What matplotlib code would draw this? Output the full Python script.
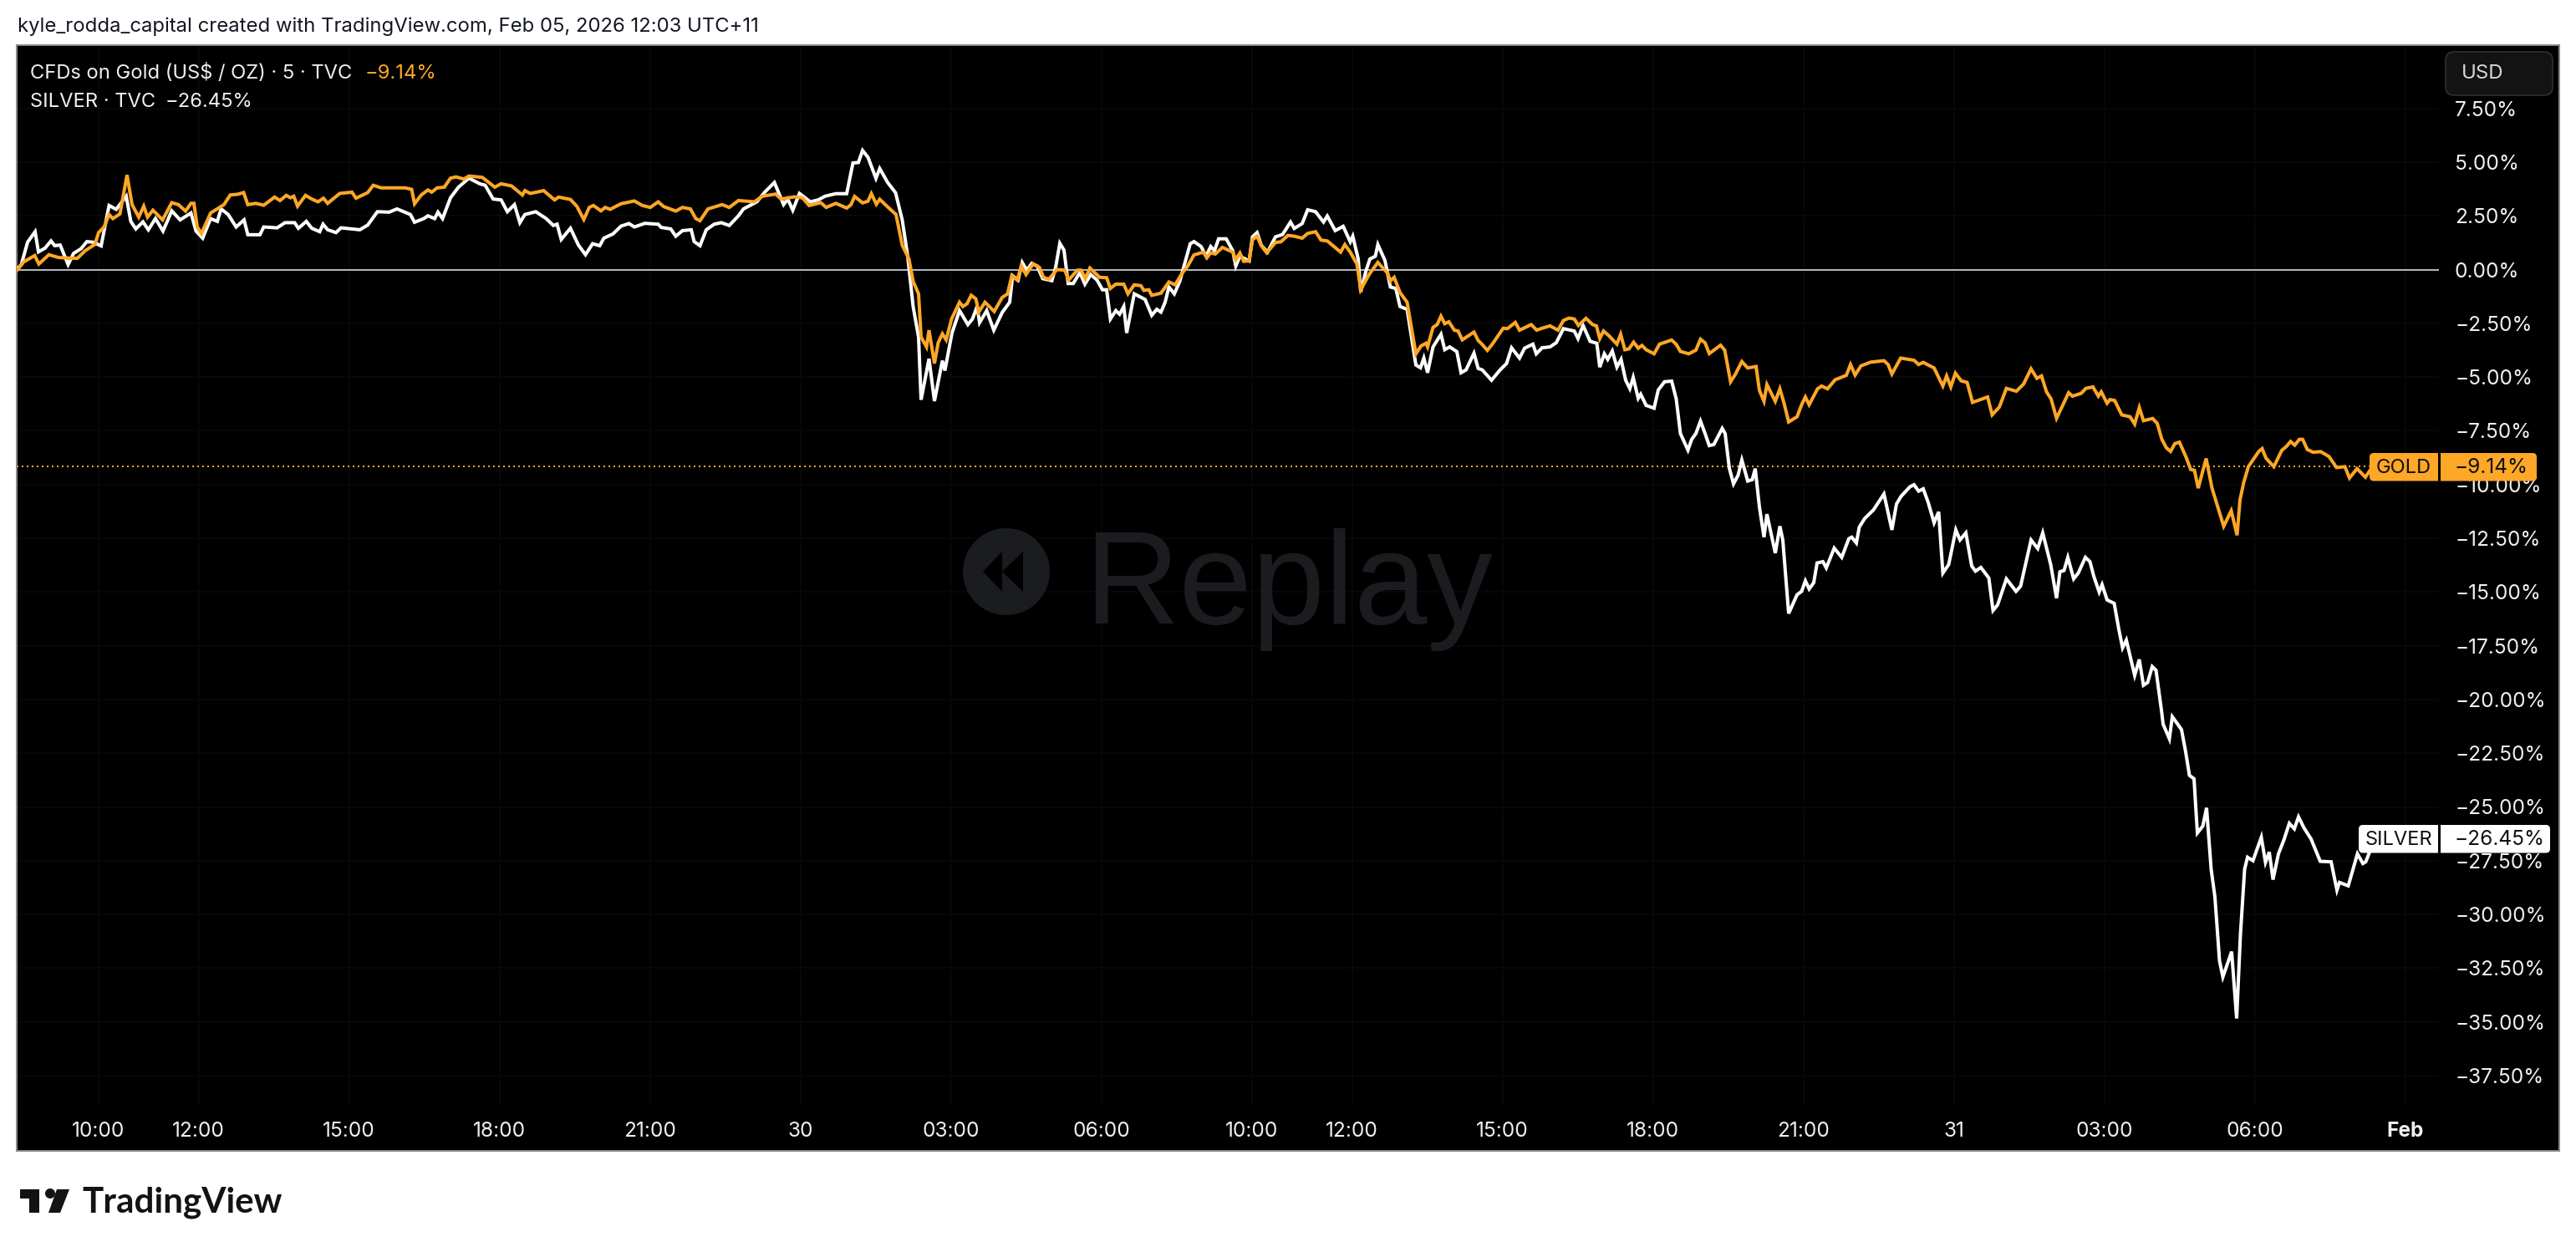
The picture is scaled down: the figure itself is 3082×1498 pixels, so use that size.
import matplotlib
matplotlib.use('Agg')
import matplotlib.pyplot as plt
from matplotlib.patches import Circle, FancyBboxPatch, Polygon, Rectangle

plt.rcParams['font.family'] = ['Inter', 'DejaVu Sans']

# values: x is in 5 minute bars from the left edge, y in percent
silver_bar = [0, 1.1, 2.6, 4.4, 5.2, 6.8, 8.2, 9.1, 10.4, 12.3, 13.6, 15.4, 16.8, 18.3, 20.2, 22.1, 23.8, 26.2, 27.3, 28.5,
              30.2, 31.5, 33.2, 35, 37.1, 39.1, 41.7, 42.9, 44.5, 46.4, 48, 48.9, 50.6, 52.5, 54.4, 55.3, 58.2, 59.1, 62.3, 64.2,
              66.5, 67.4, 69.3, 70.6, 72.5, 73.3, 74.4, 76.4, 77.6, 82.1, 84, 86.3, 89.1, 91, 94.2, 95.2, 97.4, 98.4, 100, 100.8,
              101.9, 103.8, 105.7, 108.2, 110.8, 112.1, 114, 115.9, 117.4, 119.1, 120.4, 121.6, 124.2, 126.7, 128.4, 129.3, 130.3, 132.5, 134.4, 136.1,
              137.8, 139.5, 140.5, 142.7, 144.6, 146.5, 147.8, 150.3, 153.5, 154.2, 156.5, 157.7, 159.3, 161.4, 162.1, 163.5, 165, 166.9, 168.6, 170.5,
              172.7, 173.9, 177.1, 179, 181.3, 183.5, 184.5, 185.7, 187.3, 189.9, 191.8, 193.4, 196, 198.6, 200.1, 201.4, 202.4, 203.7, 205.6, 206.5,
              208.4, 210.3, 211.9, 213.2, 214.5, 215.8, 216.4, 218.3, 219.6, 221.5, 222.1, 223.8, 225.6, 227.6, 228.7, 229.8, 230.4, 232.1, 233.8, 235.8,
              237.6, 238.3, 239.6, 240.6, 241.7, 242.9, 244.2, 245.5, 247.7, 248.6, 249.6, 250.6, 251.6, 252.8, 254.4, 255.6, 257, 258.5, 259.8, 260.8,
              261.7, 263, 263.9, 264.9, 265.6, 267.4, 270, 271.6, 272.8, 273.8, 274.8, 275.7, 277, 278.3, 279.5, 280.8, 281.7, 283.4, 284.6, 285.7,
              286.6, 287.6, 289.4, 291, 291.7, 292.7, 294.9, 295.7, 296.8, 297.8, 299.3, 301.2, 302.9, 304.8, 305.7, 307.6, 308.9, 310.8, 312.7, 313.6,
              315.5, 317.4, 319.1, 319.7, 321, 321.6, 322.9, 323.8, 325.1, 325.7, 327.4, 328.7, 330, 331, 332.7, 334.8, 335.9, 336.7, 337.6, 338.9,
              340.8, 341.7, 342.9, 344.6, 345.6, 346.8, 348.7, 349.7, 350.7, 352.9, 354.8, 356.5, 357.7, 359.6, 360.8, 362.8, 363.6, 365, 366.9, 368.4,
              370.1, 372.7, 373.6, 374.8, 376.5, 378.1, 378.8, 379.9, 380.7, 381.8, 382.9, 383.9, 385, 386, 386.8, 388, 388.6, 389.9, 391.8, 392.8,
              394.3, 396, 397.1, 398.1, 399.9, 400.8, 401.8, 402.9, 404, 405, 406.1, 408.1, 408.8, 409.8, 410.8, 411.9, 412.8, 414.2, 415.3, 416,
              417, 418.1, 418.8, 420.8, 421.9, 422.6, 424, 426, 427.1, 428, 428.9, 430, 430.8, 432.2, 433, 434.9, 436.7, 438.4, 439.1, 440.2,
              440.9, 442.2, 444.3, 446.8, 448.7, 449.8, 450.9, 453, 454, 455.1, 456.2, 457.4, 458.8, 459.9, 460.9, 462.3, 464, 465, 466.4, 467.8,
              468.7, 470, 471.9, 472.9, 474, 476.1, 478.4, 479.5, 482, 483.6, 484.8, 486.7, 488.1, 488.9, 489.9, 490.8, 492.2, 493.3, 495, 496.1,
              497, 498.3, 499, 500.2, 501.9, 503, 503.9, 504.8, 506.8, 507.9, 508.9, 509.9, 511, 511.9, 513.2, 513.6, 515.1, 515.8, 518, 519,
              519.9, 521, 521.8, 523.1, 524, 525.1, 526, 527.1, 527.9, 530, 531.2, 532.1, 533.1, 533.8, 535.1, 537.1, 538.1, 539, 539.9, 541.2,
              542.5, 543.8, 545, 546, 547.3, 549, 551.2, 553.8, 555.2, 555.8, 557.9, 560.1, 561.4, 562.1, 563, 566]
silver_pct = [0, .23, 1.27, 1.76, .82, 1.0, 1.33, 1.11, 1.14, .23, .75, .97, 1.3, 1.27, 1.1, 2.98, 2.8, 3.41, 2.24, 1.89,
              2.22, 1.85, 2.37, 1.79, 2.73, 2.31, 2.63, 1.79, 1.46, 2.37, 2.24, 2.82, 2.56, 1.98, 2.31, 1.62, 1.62, 1.98, 1.94, 2.18,
              2.18, 1.92, 2.24, 1.92, 1.76, 2.11, 1.85, 1.72, 1.94, 1.85, 2.07, 2.69, 2.67, 2.82, 2.56, 2.2, 2.37, 2.5, 2.37, 2.67,
              2.37, 3.34, 3.83, 4.25, 3.99, 3.92, 3.28, 3.24, 2.69, 3.02, 2.18, 2.56, 2.69, 2.37, 2.05, 2.11, 1.4, 1.92, 1.14, .69,
              1.2, 1.11, 1.46, 1.66, 2.02, 2.14, 1.98, 2.15, 2.11, 1.96, 1.89, 1.55, 1.81, 1.85, 1.3, 1.11, 1.85, 2.11, 2.18, 2.05,
              2.5, 2.82, 3.15, 3.6, 4.05, 3.02, 3.28, 2.76, 3.54, 3.15, 3.24, 3.41, 3.53, 3.53, 4.96, 4.98, 5.54, 5.22, 4.24, 4.7,
              4.05, 3.57, 2.3, .62, -1.72, -3.14, -6.06, -4.15, -6.12, -4.24, -4.7, -2.95, -1.91, -2.56, -2.3, -1.72, -2.47, -1.91, -2.82, -2.0,
              -1.52, -.29, -.49, .33, -.03, .29, .16, -.42, -.52, .1, 1.22, .9, -.65, -.65, -.14, -.68, -.23, -.49, -.94, -.94,
              -2.3, -1.91, -2.08, -1.72, -2.95, -1.13, -1.39, -2.13, -1.85, -1.98, -1.52, -.81, -1.13, -.55, .29, 1.2, 1.3, 1.07, .62, 1.07,
              .87, 1.43, 1.43, .87, .16, .62, .4, 1.52, 1.72, 1.13, .81, 1.52, 1.63, 2.21, 1.91, 2.14, 2.78, 2.69, 2.21, 2.49,
              1.81, 2.01, 1.29, 1.55, .49, -1.04, -.03, .49, .62, 1.16, .42, -.81, -.88, -1.72, -1.85, -4.44, -4.57, -4.12, -4.8, -3.6,
              -3.01, -3.73, -3.6, -3.82, -4.8, -4.67, -3.89, -4.6, -4.67, -5.15, -4.7, -4.37, -3.64, -4.12, -3.66, -3.47, -3.92, -3.64, -3.6, -3.4,
              -2.75, -2.86, -3.21, -2.6, -3.34, -3.43, -4.54, -3.92, -4.18, -3.79, -4.54, -4.18, -5.15, -5.54, -5.02, -5.99, -5.8, -6.32, -6.45, -5.6,
              -5.22, -5.19, -6.02, -7.63, -8.4, -7.9, -7.63, -7.05, -7.63, -8.19, -8.14, -7.39, -7.63, -9.24, -9.97, -9.57, -8.86, -9.84, -9.77, -9.26,
              -11.04, -12.45, -11.38, -13.19, -11.94, -12.58, -16, -15.13, -14.97, -14.48, -14.86, -14.57, -13.65, -13.59, -13.88, -12.96, -13.39, -12.52, -12.45, -12.72,
              -11.98, -11.58, -11.18, -10.44, -12.11, -10.91, -10.55, -10.11, -10.01, -10.31, -10.2, -10.84, -11.78, -11.27, -14.12, -13.72, -12.11, -12.58, -12.25, -13.79,
              -14.03, -13.86, -14.35, -15.86, -15.6, -14.39, -14.97, -14.73, -12.58, -12.98, -12.25, -13.72, -15.29, -14.06, -14.0, -13.39, -14.39, -14.12, -13.39, -13.59,
              -14.26, -15, -14.66, -15.37, -15.53, -16.73, -17.6, -17.24, -18.88, -18.14, -19.34, -19.21, -18.47, -18.64, -20.5, -21.15, -21.83, -20.8, -21.4, -22.44,
              -23.53, -23.69, -26.21, -25.89, -25.04, -27.9, -29.19, -32.16, -32.91, -31.73, -34.84, -30.95, -27.9, -27.34, -27.5, -26.41, -27.58, -27.1, -28.38, -27.18,
              -26.54, -25.76, -26.02, -25.46, -25.97, -26.49, -27.53, -27.55, -28.87, -28.51, -28.67, -27.18, -27.63, -27.55, -27.1, -26.45]

gold_bar = [0, 1.7, 4.3, 5.3, 7.7, 10, 12.8, 14.5, 16.4, 18.7, 19.6, 20.9, 22.1, 23, 24.7, 26.4, 27.6, 29.2, 30.4, 31.3,
            32.6, 34.9, 37.1, 38.7, 40.4, 41.7, 42.4, 43.2, 44.2, 46.4, 49.6, 51.1, 52.8, 54.3, 55.3, 57.2, 59.1, 61.7, 63, 64.5,
            65.5, 66.3, 67.2, 69.1, 70.6, 72.1, 73.4, 74.4, 77.3, 80.2, 81.2, 84, 85.3, 87.2, 92.9, 94.5, 95.2, 96.8, 98.4, 99.3,
            100.6, 102.3, 103.8, 105.1, 107, 108.2, 111.4, 114.4, 115.9, 118.4, 121, 121.6, 122.9, 126.1, 128.7, 129.7, 132.5, 134, 135.7, 137,
            138, 139.8, 140.8, 142, 144.6, 147.8, 149.7, 151.6, 153.5, 154.8, 157.7, 159.3, 161.2, 162.5, 163.5, 165.4, 168.8, 170.5, 172.7, 176.5,
            178.4, 181.6, 182.9, 186, 188, 189.6, 192.4, 193.7, 196, 198.6, 199.6, 200.5, 202.4, 203.7, 204.5, 205.7, 206.5, 208.1, 210.4, 211.9,
            213.5, 214.5, 215.8, 216.4, 217.7, 218.3, 219.6, 220.5, 221.5, 222.4, 223.7, 225.6, 226.4, 227.4, 228.4, 229.5, 230.2, 231.7, 233.9, 235.8,
            237.1, 238.1, 239.4, 240.4, 241.5, 243.2, 244.7, 245.7, 247, 248.9, 250.8, 251.7, 253.8, 254.7, 255.7, 256.8, 259.1, 260.8, 261.7, 263,
            264.9, 265.9, 267.4, 269, 269.7, 270.9, 271.6, 273.8, 275.7, 277.2, 278.9, 280.2, 281.7, 284, 284.8, 285.7, 286.8, 288.5, 291, 291.7,
            292.7, 293.6, 294.9, 295.7, 296.8, 297.8, 299.1, 301.2, 302.5, 304.2, 305.7, 307.6, 308.9, 310.8, 312.1, 313.6, 316.8, 317.8, 319.1, 320.7,
            321.6, 323.6, 325.7, 328, 328.7, 329.6, 331, 332.7, 334.8, 336, 337.2, 337.6, 338.9, 339.9, 340.8, 341.7, 342.7, 344, 344.9, 345.9,
            348.7, 349.7, 350.6, 351.9, 353.1, 355.7, 356.7, 358.6, 359.6, 362.4, 363.7, 365, 366.9, 368.8, 370.1, 371.4, 372.7, 373.7, 375.5, 377.1,
            378, 378.8, 379.7, 381, 382.9, 383.8, 384.8, 385.8, 386.9, 388, 388.9, 389.9, 391.8, 393.1, 396, 397.1, 398.1, 400.1, 401.8, 402.9,
            404, 405, 407.7, 408.7, 410.1, 411.2, 412.8, 414.2, 416.2, 417, 418.1, 418.8, 420.8, 421.9, 422.9, 424, 426, 427.1, 428, 428.9,
            430.9, 431.9, 433.3, 435.1, 437.8, 438.8, 439.9, 441.3, 443.6, 446.8, 447.8, 448.7, 450.8, 454, 455.1, 456.2, 458.8, 460.9, 461.8, 462.8,
            463.9, 465.3, 466.7, 468, 471.6, 472.7, 474.4, 476.1, 478.5, 480.2, 482, 483.4, 484.5, 485.7, 486.8, 488.1, 491, 491.9, 494, 495.1,
            496.8, 498.1, 498.8, 500.2, 500.9, 502, 503.7, 505.7, 506.8, 507.9, 508.9, 511.1, 512.2, 513.3, 514.4, 515.4, 516.4, 517.5, 519.1, 520.2,
            521.1, 522, 523.9, 525.3, 528.1, 529.9, 531.3, 532, 532.9, 534, 536.5, 537.3, 538.2, 540.1, 542, 543.1, 544.1, 545.1, 546.2, 547,
            548.1, 549.5, 551.3, 553.3, 555.1, 557.1, 558.2, 560, 562, 563.4, 566]
gold_pct = [-.05, .36, .65, .26, .69, .56, .53, .52, .88, 1.17, 1.72, 1.98, 2.56, 2.37, 2.59, 4.4, 3.02, 2.44, 2.95, 2.44,
            2.76, 2.31, 3.11, 3.02, 2.72, 3.08, 3.08, 1.98, 1.68, 2.63, 3.02, 3.47, 3.5, 3.58, 3.02, 3.08, 2.99, 3.37, 3.21, 3.45,
            3.34, 3.41, 2.95, 3.45, 3.28, 3.15, 3.32, 3.08, 3.54, 3.6, 3.32, 3.58, 3.92, 3.8, 3.8, 3.73, 3.06, 3.47, 3.7, 3.6,
            3.8, 3.83, 4.25, 4.31, 4.21, 4.35, 4.29, 3.83, 3.99, 3.89, 3.47, 3.67, 3.54, 3.67, 3.24, 3.37, 3.26, 2.95, 2.33, 2.89,
            2.98, 2.73, 2.89, 2.8, 3.06, 3.19, 2.98, 2.89, 3.15, 2.93, 2.72, 2.89, 2.82, 2.37, 2.27, 2.82, 3.02, 2.89, 3.21, 3.15,
            3.41, 3.51, 3.28, 3.38, 3.34, 2.98, 3.11, 2.89, 3.08, 2.86, 3.01, 3.4, 3.1, 3.18, 3.53, 3.04, 3.27, 2.97, 2.56, 1.13,
            .49, -.55, -1.13, -3.14, -3.6, -2.82, -4.37, -3.4, -2.99, -3.27, -2.3, -1.52, -1.72, -1.59, -1.2, -1.36, -1.98, -1.52, -1.95, -1.3,
            -1.13, -.29, -.49, .16, -.23, .26, .1, -.36, -.45, 0, -.03, -.49, -.03, -.03, -.42, .07, -.36, -.38, -.88, -.68,
            -.68, -1.13, -.71, -.75, -.97, -.94, -1.2, -1.1, -.58, -.71, -.16, .16, .68, .81, .55, .78, .72, 1.03, .81, .46,
            .77, .38, .41, 1.39, 1.55, 1.11, .78, 1.26, 1.29, 1.59, 1.55, 1.46, 1.68, 1.76, 1.37, 1.33, .81, 1.16, .81, .25,
            -.94, -.23, .33, -.16, -.53, -.36, -1.07, -1.52, -3.92, -3.56, -3.43, -3.6, -2.69, -2.56, -2.17, -2.52, -2.43, -2.82, -2.86, -3.27,
            -2.91, -3.3, -3.47, -3.76, -3.47, -2.73, -2.75, -2.46, -2.82, -2.56, -2.82, -2.73, -2.62, -2.82, -2.37, -2.26, -2.3, -2.6, -2.27, -2.56,
            -2.62, -3.21, -2.86, -3.08, -3.47, -3.01, -3.73, -3.69, -3.38, -3.66, -3.53, -3.73, -3.92, -3.47, -3.28, -3.48, -3.81, -3.92, -3.75, -3.24,
            -3.41, -3.91, -3.52, -3.75, -5.22, -4.89, -4.28, -4.58, -4.51, -5.62, -6.13, -5.35, -6.13, -5.55, -6.22, -7.09, -6.85, -6.29, -5.93, -6.29,
            -5.55, -5.42, -5.55, -5.13, -4.92, -4.42, -4.91, -4.48, -4.31, -4.24, -4.42, -4.86, -4.12, -4.22, -4.42, -4.32, -4.58, -5.42, -4.95, -5.46,
            -4.82, -5.18, -5.25, -6.18, -5.93, -6.76, -6.4, -5.53, -5.66, -5.33, -4.62, -5.06, -4.95, -5.69, -6.02, -6.92, -5.73, -5.89, -5.76, -5.53,
            -5.46, -5.89, -5.69, -6.22, -6.05, -6.09, -6.76, -6.85, -7.19, -6.42, -7.03, -6.93, -7.16, -7.9, -8.3, -8.46, -8.1, -8.03, -8.73, -9.3,
            -9.34, -10.17, -8.79, -10.17, -11.94, -11.22, -12.36, -10.71, -9.9, -9.17, -8.46, -8.33, -8.77, -9.17, -8.41, -8.23, -8.0, -8.17, -7.9, -7.9,
            -8.37, -8.5, -8.47, -8.7, -9.21, -9.17, -9.7, -9.26, -9.66, -9.26, -9.14]

y_ticks = [7.5, 5, 2.5, 0, -2.5, -5, -7.5, -10, -12.5, -15, -17.5, -20, -22.5, -25, -27.5, -30, -32.5, -35, -37.5]
y_labels = ['7.50%', '5.00%', '2.50%', '0.00%', '−2.50%', '−5.00%', '−7.50%', '−10.00%', '−12.50%', '−15.00%',
            '−17.50%', '−20.00%', '−22.50%', '−25.00%', '−27.50%', '−30.00%', '−32.50%', '−35.00%', '−37.50%']
x_ticks = [19.5, 43.5, 79.5, 115.5, 151.5, 187.5, 223.5, 259.5, 295.5, 319.5, 355.5, 391.5, 427.5, 463.5, 499.5, 535.5, 571.5]
x_labels = ['10:00', '12:00', '15:00', '18:00', '21:00', '30', '03:00', '06:00', '10:00', '12:00', '15:00', '18:00', '21:00',
            '31', '03:00', '06:00', 'Feb']
gold_last = -9.14
silver_last = -26.45

GOLD = '#ffa726'
W, H = 3082, 1498
LEFT, RIGHT, TOP, BOTTOM = 20, 3062, 54, 1377
PANE_RIGHT, PANE_BOTTOM = 2918, 1322
BAR_PX = 5
PCT_PX = 25.72
ZERO_PX = 322.5
pane_x = (PANE_RIGHT - LEFT) / BAR_PX
pane_y = (ZERO_PX - PANE_BOTTOM) / PCT_PX

fig = plt.figure(figsize=(W / 100, H / 100), dpi=100, facecolor='white')
ax = fig.add_axes([LEFT / W, 1 - BOTTOM / H, (RIGHT - LEFT) / W, (BOTTOM - TOP) / H], facecolor='black')
ax.set_xlim(0, (RIGHT - LEFT) / BAR_PX)
ax.set_ylim((ZERO_PX - BOTTOM) / PCT_PX, (ZERO_PX - TOP) / PCT_PX)

# faint grid stops where the price and time scales begin
ax.hlines(y_ticks, 0, pane_x, colors='#080808', lw=1.4, zorder=1)
ax.vlines(x_ticks, pane_y, ax.get_ylim()[1], colors='#080808', lw=1.4, zorder=1)
ax.hlines(0, 0, pane_x, colors='#b2b5be', lw=1.44, zorder=2)
ax.hlines(gold_last, 0, pane_x, colors=GOLD, lw=1.44, linestyles=(0, (1, 2)), zorder=2)

ax.plot(silver_bar, silver_pct, color='white', lw=2.9, zorder=3, solid_joinstyle='miter')
ax.plot(gold_bar, gold_pct, color=GOLD, lw=2.9, zorder=4, solid_joinstyle='miter')

ax.yaxis.tick_right()
ax.set_yticks(y_ticks)
ax.set_yticklabels(y_labels, ha='left')
ax.tick_params(axis='y', length=0, pad=-90, labelsize=17.6, labelcolor='#f0f0f0')
ax.set_xticks(x_ticks)
ax.set_xticklabels(x_labels)
ax.tick_params(axis='x', length=0, pad=-25.5, labelsize=17.6, labelcolor='#f0f0f0')
ax.get_xticklabels()[-1].set_fontweight('bold')
for s in ax.spines.values():
    s.set_color('#8a8a8a')
    s.set_linewidth(1.44)

# overlay in picture pixels for header, legend, tags and logos
ov = fig.add_axes([0, 0, 1, 1], facecolor='none')
ov.set_xlim(0, W)
ov.set_ylim(H, 0)
ov.axis('off')

ov.text(21, 32, 'kyle_rodda_capital created with TradingView.com, Feb 05, 2026 12:03 UTC+11',
        fontsize=17.2, color='#131722', va='center', ha='left')
ov.text(36, 87.5, 'CFDs on Gold (US$ / OZ) · 5 · TVC', fontsize=17.1, color='#f0f0f0', va='center')
ov.text(437, 87.5, '−9.14%', fontsize=17.1, color=GOLD, va='center')
ov.text(36, 121.5, 'SILVER · TVC', fontsize=17.1, color='#f0f0f0', va='center')
ov.text(198, 121.5, '−26.45%', fontsize=17.1, color='#f0f0f0', va='center')

# replay watermark
ov.add_patch(Circle((1204, 684), 52, color='#1b1c20', lw=0, zorder=1))
ov.add_patch(Polygon([(1176, 684), (1199, 660), (1199, 708)], color='black', lw=0, zorder=2))
ov.add_patch(Polygon([(1199, 684), (1224, 660), (1224, 708)], color='black', lw=0, zorder=2))
ov.text(1297, 746, 'Replay', fontsize=113, family='Liberation Sans', color='#1b1c20', va='baseline', ha='left', zorder=1)


def tag(x0, x1, y0, y1, colour, name, name_x, value):
    ov.add_patch(FancyBboxPatch((x0 + 4, y0 + 4), x1 - x0 - 8, y1 - y0 - 8, boxstyle='round,pad=4,rounding_size=5',
                                fc=colour, ec='none', zorder=5))
    ov.add_patch(Rectangle((2917.5, y0), 2.2, y1 - y0, fc='black', ec='none', zorder=6))
    ov.text(name_x, (y0 + y1) / 2 + 1, name, fontsize=17, color='#111111', va='center', ha='center', zorder=7)
    ov.text(2937, (y0 + y1) / 2 + 1, value, fontsize=17.6, color='#111111', va='center', ha='left', zorder=7)


tag(2835, 3035, 542, 575.5, GOLD, 'GOLD', 2876, '−9.14%')
tag(2822, 3051, 987, 1020.5, 'white', 'SILVER', 2870, '−26.45%')

# currency button
ov.add_patch(FancyBboxPatch((2936, 72), 108, 32, boxstyle='round,pad=10,rounding_size=10', fc='#131313', ec='#2b2b2b',
                            lw=1.4, zorder=5))
ov.text(2945, 88, 'USD', fontsize=17.3, color='#d8d8d8', va='center', ha='left', zorder=6)

# tradingview logo
LOGO = '#131313'
ov.add_patch(Polygon([(24, 1423), (47, 1423), (47, 1451), (35, 1451), (35, 1434), (24, 1434)], color=LOGO, lw=0))
ov.add_patch(Circle((60, 1428), 6, color=LOGO, lw=0))
ov.add_patch(Polygon([(68, 1423), (83, 1423), (72, 1451), (58, 1451)], color=LOGO, lw=0))
ov.text(98, 1451, 'TradingView', fontsize=30.3, family='Lato', fontweight='bold', color=LOGO, va='baseline', ha='left')

fig.savefig('out.png', dpi=100, facecolor='white')
